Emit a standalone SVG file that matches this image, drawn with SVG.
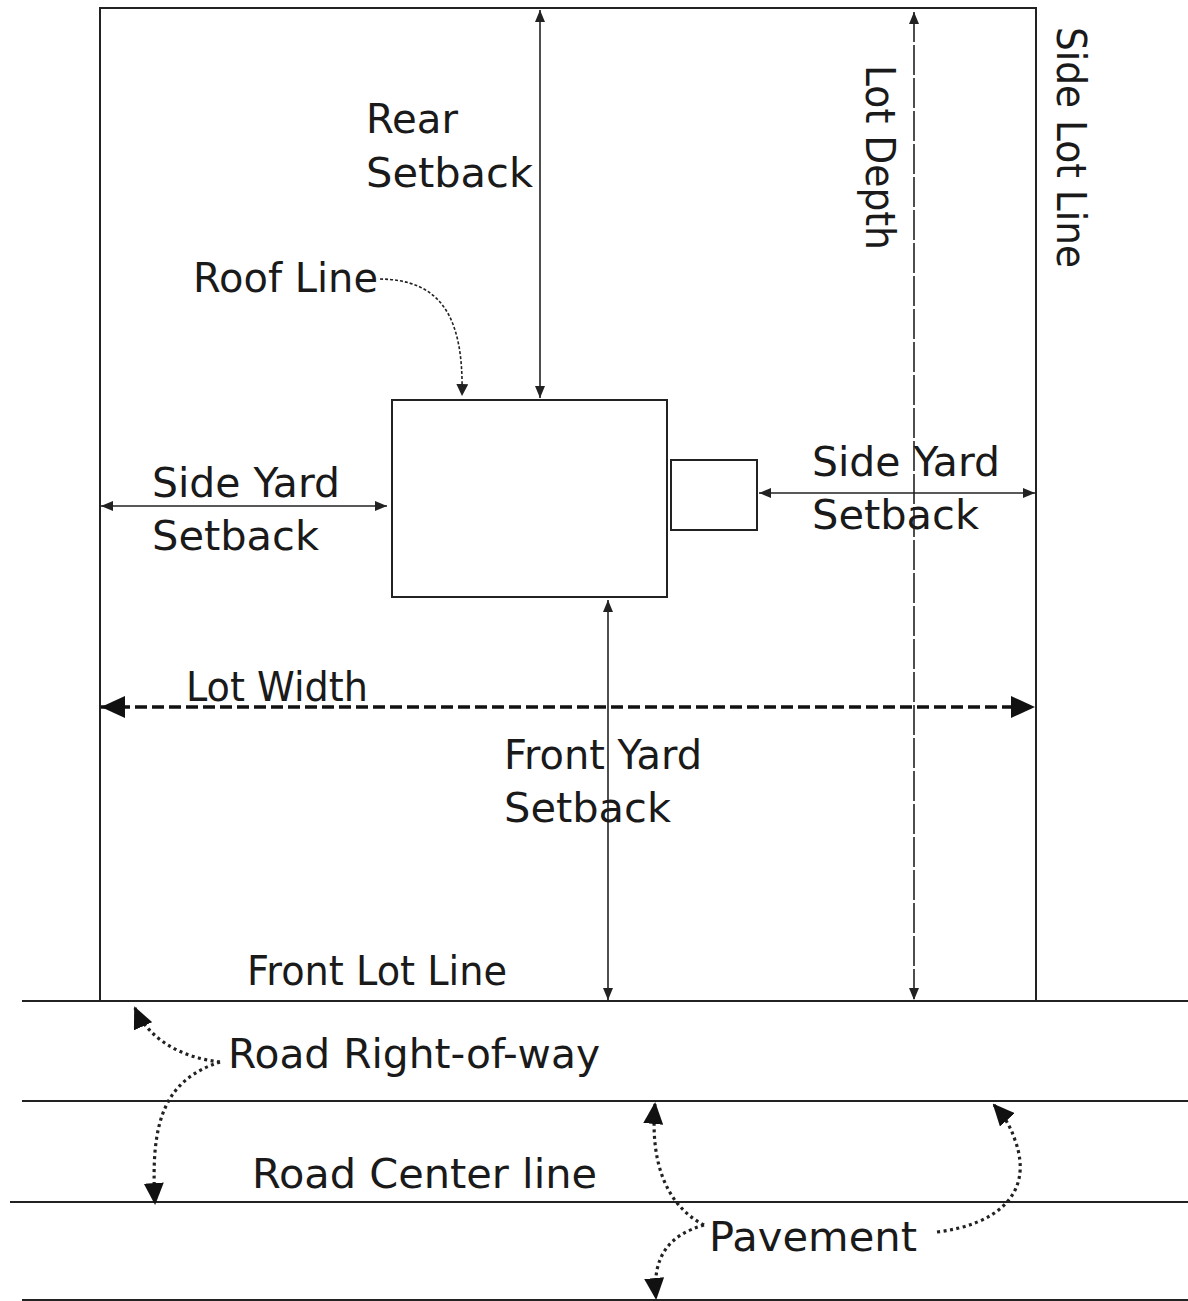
<svg xmlns="http://www.w3.org/2000/svg" width="1188" height="1301" viewBox="0 0 1188 1301">
<style>
.t{font-family:"DejaVu Sans","Liberation Sans",sans-serif;font-size:40px;fill:#1a1a1a}
.ln{stroke:#222;stroke-width:2;fill:none}
.dim{stroke:#222;stroke-width:1.6;fill:none}
.dot{stroke:#222;stroke-width:3.2;fill:none;stroke-dasharray:3 3.5}
</style>
<defs>
<marker id="sa" viewBox="0 0 12 10" refX="12" refY="5" markerWidth="12" markerHeight="10" markerUnits="userSpaceOnUse" orient="auto-start-reverse"><path d="M0,0 L12,5 L0,10 z" fill="#222"/></marker>
<marker id="ba" viewBox="0 0 24 22" refX="24" refY="11" markerWidth="24" markerHeight="22" markerUnits="userSpaceOnUse" orient="auto-start-reverse"><path d="M0,0 L24,11 L0,22 z" fill="#111"/></marker>
<marker id="ra" viewBox="0 0 22 20" refX="20" refY="10" markerWidth="22" markerHeight="20" markerUnits="userSpaceOnUse" orient="auto"><path d="M0,0 L22,10 L0,20 z" fill="#111"/></marker>
<marker id="fa" viewBox="0 0 12 12" refX="12" refY="6" markerWidth="12" markerHeight="12" markerUnits="userSpaceOnUse" orient="auto"><path d="M0,0 L12,6 L0,12 z" fill="#222"/></marker>
</defs>
<rect width="1188" height="1301" fill="#fff"/>
<g id="lot">
<rect x="100" y="8" width="936" height="993" class="ln"/>
</g>
<g id="road">
<line x1="22" y1="1001" x2="1188" y2="1001" class="ln"/>
<line x1="22" y1="1101" x2="1188" y2="1101" class="ln"/>
<line x1="10" y1="1202" x2="1188" y2="1202" class="ln"/>
<line x1="22" y1="1300" x2="1188" y2="1300" class="ln"/>
</g>
<g id="house">
<rect x="392" y="400" width="275" height="197" class="ln"/>
</g>
<g id="annex">
<rect x="671" y="460" width="86" height="70" class="ln"/>
</g>
<g id="connectors">
<line x1="540" y1="10" x2="540" y2="398" class="dim" marker-start="url(#sa)" marker-end="url(#sa)"/>
<line x1="914" y1="12" x2="914" y2="1000" class="dim" stroke-dasharray="30 3" marker-start="url(#sa)" marker-end="url(#sa)"/>
<line x1="101" y1="506" x2="387" y2="506" class="dim" marker-start="url(#sa)" marker-end="url(#sa)"/>
<line x1="759" y1="493" x2="1035" y2="493" class="dim" marker-start="url(#sa)" marker-end="url(#sa)"/>
<line x1="608" y1="600" x2="608" y2="1000" class="dim" marker-start="url(#sa)" marker-end="url(#sa)"/>
<line x1="101" y1="707" x2="1035" y2="707" stroke="#111" stroke-width="3.5" stroke-dasharray="12 5" marker-start="url(#ba)" marker-end="url(#ba)"/>
<path d="M380,279 C440,280 464,315 462,396" stroke="#222" stroke-width="1.6" fill="none" stroke-dasharray="3 2" marker-end="url(#fa)"/>
<path d="M220,1062 C185,1058 150,1042 135,1008" class="dot" marker-end="url(#ra)"/>
<path d="M220,1062 C165,1080 150,1120 155,1203" class="dot" marker-end="url(#ra)"/>
<path d="M704,1225 C665,1205 650,1160 655,1104" class="dot" marker-end="url(#ra)"/>
<path d="M704,1225 C670,1235 652,1255 656,1298" class="dot" marker-end="url(#ra)"/>
<path d="M937,1232 C995,1225 1035,1195 1015,1140 C1010,1125 1003,1115 994,1105" class="dot" marker-end="url(#ra)"/>
</g>
<g id="labels">
<text class="t" x="366" y="133" textLength="92" lengthAdjust="spacingAndGlyphs">Rear</text>
<text class="t" x="366" y="187" textLength="167" lengthAdjust="spacingAndGlyphs">Setback</text>
<text class="t" x="193" y="292" textLength="185" lengthAdjust="spacingAndGlyphs">Roof Line</text>
<text class="t" x="152" y="497" textLength="188" lengthAdjust="spacingAndGlyphs">Side Yard</text>
<text class="t" x="152" y="550" textLength="167" lengthAdjust="spacingAndGlyphs">Setback</text>
<text class="t" x="812" y="476" textLength="188" lengthAdjust="spacingAndGlyphs">Side Yard</text>
<text class="t" x="812" y="529" textLength="167" lengthAdjust="spacingAndGlyphs">Setback</text>
<text class="t" x="186" y="701" textLength="182" lengthAdjust="spacingAndGlyphs">Lot Width</text>
<text class="t" x="504" y="769" textLength="198" lengthAdjust="spacingAndGlyphs">Front Yard</text>
<text class="t" x="504" y="822" textLength="167" lengthAdjust="spacingAndGlyphs">Setback</text>
<text class="t" x="247" y="985" textLength="260" lengthAdjust="spacingAndGlyphs">Front Lot Line</text>
<text class="t" x="228" y="1068" textLength="372" lengthAdjust="spacingAndGlyphs">Road Right-of-way</text>
<text class="t" x="252" y="1188" textLength="345" lengthAdjust="spacingAndGlyphs">Road Center line</text>
<text class="t" x="709" y="1251" textLength="208" lengthAdjust="spacingAndGlyphs">Pavement</text>
<text class="t" transform="translate(1057,27) rotate(90)" textLength="241" lengthAdjust="spacingAndGlyphs">Side Lot Line</text>
<text class="t" transform="translate(866,65) rotate(90)" textLength="185" lengthAdjust="spacingAndGlyphs">Lot Depth</text>
</g>
</svg>
